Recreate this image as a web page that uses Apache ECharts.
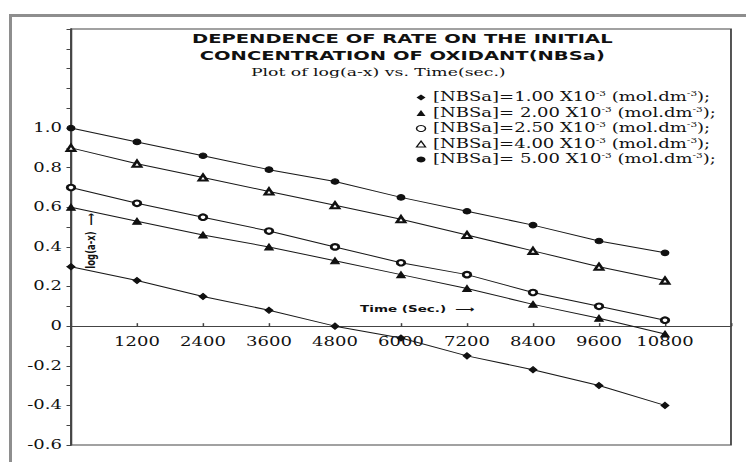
<!DOCTYPE html>
<html>
<head>
<meta charset="utf-8">
<script src="https://cdn.jsdelivr.net/npm/echarts@6/dist/echarts.min.js"></script>
<style>
  html, body { margin: 0; padding: 0; background: #fff; }
  #wrap { position: relative; width: 746px; height: 462px; overflow: hidden; background: #fff; }
  #frame { position: absolute; left: 9px; top: 14px; width: 760px; height: 470px;
           border-left: 3px solid #8e8e8e; border-top: 3px solid #8e8e8e; }
  /* the figure is laid out narrow and widened horizontally */
  #chart { position: absolute; left: 0; top: 0; width: 497px; height: 462px;
           transform-origin: 0 0; transform: scaleX(1.501); }
</style>
</head>
<body>
<div id="wrap">
  <div id="frame"></div>
  <div id="chart"></div>
</div>
<script>
// Time (s)
const times = [0, 1200, 2400, 3600, 4800, 6000, 7200, 8400, 9600, 10800];

// log(a-x) for each oxidant concentration
const logAX_100 = [0.30, 0.23, 0.15, 0.08, 0.00, -0.06, -0.15, -0.22, -0.30, -0.40];
const logAX_200 = [0.60, 0.53, 0.46, 0.40, 0.33, 0.26, 0.19, 0.11, 0.04, -0.04];
const logAX_250 = [0.70, 0.62, 0.55, 0.48, 0.40, 0.32, 0.26, 0.17, 0.10, 0.03];
const logAX_400 = [0.90, 0.82, 0.75, 0.68, 0.61, 0.54, 0.46, 0.38, 0.30, 0.23];
const logAX_500 = [1.00, 0.93, 0.86, 0.79, 0.73, 0.65, 0.58, 0.51, 0.43, 0.37];

// legend labels (^ marks a superscript)
const concLabels = ['=1.00', '= 2.00', '=2.50', '=4.00', '= 5.00'];
const seriesNames = concLabels.map(c => '[NBSa]' + c + ' X10^-3 (mol.dm^-3);');

const xTicks = [1200, 2400, 3600, 4800, 6000, 7200, 8400, 9600, 10800];
const yTicks = [-0.6, -0.4, -0.2, 0, 0.2, 0.4, 0.6, 0.8, 1.0];
const yMin = -0.6, yMax = 1.5;

const seriesValues = [logAX_100, logAX_200, logAX_250, logAX_400, logAX_500];
const symbols = ['diamond', 'triangle', 'emptyCircle', 'emptyTriangle', 'circle'];
const symbolSizes = [[5, 6], [5.5, 6], [5, 5.5], [5.5, 6], [5, 5.5]];

const ink = '#111';

const chartEl = document.getElementById('chart');
const chart = echarts.init(chartEl, null, { renderer: 'svg' });

// plot box inside the chart
const gridTop = 29, gridBottom = 17;
const plotHeight = chartEl.clientHeight - gridTop - gridBottom;
// the time axis runs along log(a-x) = 0, lifted from the bottom edge of the box
const zeroLift = plotHeight * (0 - yMin) / (yMax - yMin);

const series = seriesValues.map((vals, i) => ({
  name: seriesNames[i],
  type: 'line',
  data: times.map((t, k) => [t, vals[k]]),
  symbol: symbols[i],
  symbolSize: symbolSizes[i],
  showSymbol: true,
  lineStyle: { color: '#1a1a1a', width: 1 },
  itemStyle: { color: ink, borderColor: ink, borderWidth: 1 },
  emphasis: { disabled: true },
  z: 3
}));

chart.setOption({
  animation: false,
  backgroundColor: 'transparent',
  title: [
    {
      text: 'DEPENDENCE OF RATE ON THE INITIAL\nCONCENTRATION OF OXIDANT(NBSa)',
      left: 268, top: 30, padding: 0, textAlign: 'center',
      textStyle: { fontFamily: 'DejaVu Sans', fontWeight: 'bold', fontSize: 13, lineHeight: 17, color: ink }
    },
    {
      text: 'Plot of log(a-x) vs. Time(sec.)',
      left: 252, top: 66, padding: 0, textAlign: 'center',
      textStyle: { fontFamily: 'DejaVu Serif', fontWeight: 'normal', fontSize: 11.5, color: ink }
    }
  ],
  legend: {
    orient: 'vertical',
    left: 277, top: 90.5, padding: 0,
    itemWidth: 6, itemHeight: 6, itemGap: 2.5,
    selectedMode: false,
    data: seriesNames.map((n, i) => {
      const hollow = symbols[i].startsWith('empty');
      return {
        name: n,
        icon: hollow ? symbols[i].slice(5).toLowerCase() : symbols[i],
        itemStyle: hollow
          ? { color: '#fff', borderColor: ink, borderWidth: 1 }
          : { color: ink, borderWidth: 0 }
      };
    }),
    formatter: name => '{n|' + name.replace(/\^(-3)/g, '}{s|$1}{n|') + '}',
    textStyle: {
      color: ink,
      rich: {
        n: { fontFamily: 'DejaVu Serif', fontSize: 12, lineHeight: 14, color: ink },
        s: { fontFamily: 'DejaVu Serif', fontSize: 7, lineHeight: 7, verticalAlign: 'top', color: ink }
      }
    }
  },
  grid: {
    show: true, left: 47.3, right: 10, top: gridTop, bottom: gridBottom,
    containLabel: false, outerBoundsMode: 'none',
    borderColor: '#444', borderWidth: 1.2, backgroundColor: 'transparent'
  },
  xAxis: {
    type: 'value', min: 0, max: 12000, interval: 1200,
    offset: -zeroLift,
    name: 'Time (Sec.)  \u27F6',
    nameLocation: 'middle', nameGap: -22, nameMoveOverlap: false,
    nameTextStyle: { fontFamily: 'DejaVu Sans', fontWeight: 'bold', fontSize: 9, color: ink, padding: [0, 0, 0, 22] },
    axisLine: { onZero: false, lineStyle: { color: '#444', width: 1.2 } },
    axisTick: { show: true, inside: true, length: 3, lineStyle: { color: '#444' } },
    axisLabel: {
      margin: 10, fontFamily: 'DejaVu Serif', fontSize: 12, color: ink,
      formatter: v => xTicks.includes(v) ? String(v) : ''
    },
    splitLine: { show: false }
  },
  yAxis: {
    type: 'value', min: yMin, max: yMax, interval: 0.1,
    name: 'log(a-x)  \u27F6',
    nameLocation: 'middle', nameGap: -18, nameRotate: 90, nameMoveOverlap: false,
    nameTextStyle: { fontFamily: 'DejaVu Sans', fontWeight: 'bold', fontSize: 8.5, color: ink, padding: [0, 8, 0, 0] },
    axisLine: { onZero: false, lineStyle: { color: '#444', width: 1.3 } },
    axisTick: { show: true, length: 3, lineStyle: { color: '#444' } },
    axisLabel: {
      margin: 6, fontFamily: 'DejaVu Serif', fontSize: 12, color: ink,
      formatter: v => {
        const hit = yTicks.find(t => Math.abs(t - v) < 1e-6);
        if (hit === undefined) return '';
        return hit === 0 ? '0' : hit.toFixed(1);
      }
    },
    splitLine: { show: false }
  },
  series: series
});
</script>
</body>
</html>
